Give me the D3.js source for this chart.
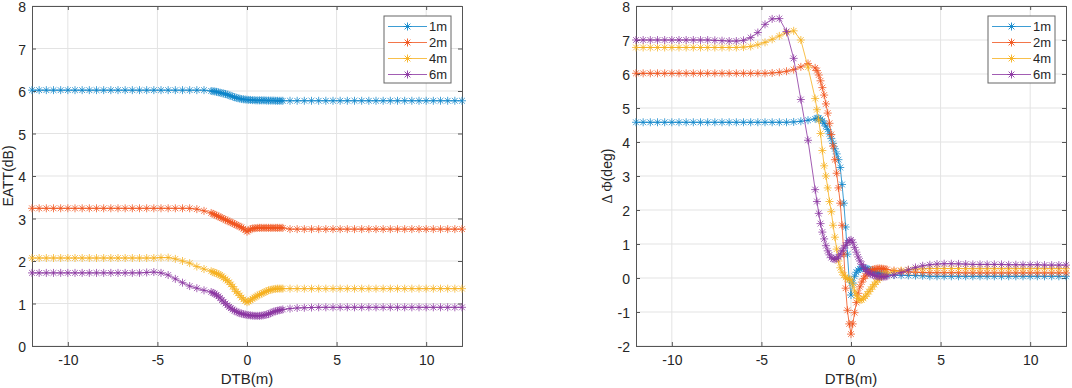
<!DOCTYPE html>
<html>
<head>
<meta charset="utf-8">
<script src="https://cdn.jsdelivr.net/npm/d3@7"></script>
<style>
  body { margin: 0; background: #fff; }
  svg { display: block; }
  text { font-family: "Liberation Sans", Arial, sans-serif; }
</style>
</head>
<body>
<div id="chart"></div>
<script>
// distance to bridge (m), sample positions shared by every curve
const dtb = [
  -12, -11.6, -11.2, -10.8, -10.4, -10, -9.6, -9.2, -8.8, -8.4, -8, -7.6, -7.2, -6.8, -6.4, -6, -5.6, -5.2, -4.8, -4.4, -4, -3.6, -3.2, -2.8, -2.4,
  -2, -1.9, -1.8, -1.7, -1.6, -1.5, -1.4, -1.3, -1.2, -1.1, -1, -0.9, -0.8, -0.7, -0.6, -0.5, -0.4, -0.3, -0.2, -0.1, 0, 0.1, 0.2, 0.3, 0.4, 0.5,
  0.6, 0.7, 0.8, 0.9, 1, 1.1, 1.2, 1.3, 1.4, 1.5, 1.6, 1.7, 1.8, 1.9, 2,
  2.4, 2.8, 3.2, 3.6, 4, 4.4, 4.8, 5.2, 5.6, 6, 6.4, 6.8, 7.2, 7.6, 8, 8.4, 8.8, 9.2, 9.6, 10, 10.4, 10.8, 11.2, 11.6, 12
];

const seriesNames = ["1m", "2m", "4m", "6m"];
const seriesColors = ["#0b84c9", "#f0531c", "#f6b01e", "#8a34a0"];

// EATT (dB)
const eatt1m = [
  6.02, 6.02, 6.02, 6.02, 6.02, 6.02, 6.02, 6.02, 6.02, 6.02, 6.02, 6.02, 6.02, 6.02, 6.02, 6.02, 6.02, 6.02, 6.02, 6.02, 6.02, 6.02, 6.02, 6.02, 6.02,
  6.00, 5.995, 5.99, 5.98, 5.97, 5.96, 5.95, 5.94, 5.93, 5.915, 5.90, 5.885, 5.87, 5.855, 5.84, 5.83, 5.82, 5.81, 5.805, 5.80, 5.795, 5.79, 5.79, 5.785, 5.785, 5.78,
  5.78, 5.78, 5.78, 5.78, 5.78, 5.775, 5.775, 5.775, 5.775, 5.775, 5.77, 5.77, 5.77, 5.77, 5.77,
  5.77, 5.77, 5.77, 5.77, 5.77, 5.77, 5.77, 5.77, 5.77, 5.77, 5.77, 5.77, 5.77, 5.77, 5.77, 5.77, 5.77, 5.77, 5.77, 5.77, 5.77, 5.77, 5.77, 5.77, 5.77
];
const eatt2m = [
  3.24, 3.24, 3.24, 3.24, 3.24, 3.24, 3.24, 3.24, 3.24, 3.24, 3.24, 3.24, 3.24, 3.24, 3.24, 3.24, 3.24, 3.24, 3.24, 3.24, 3.24, 3.24, 3.24, 3.22, 3.18,
  3.13, 3.11, 3.09, 3.07, 3.05, 3.03, 3.01, 2.99, 2.97, 2.95, 2.93, 2.91, 2.89, 2.87, 2.85, 2.83, 2.81, 2.79, 2.76, 2.73, 2.69, 2.72, 2.75, 2.765, 2.77, 2.775,
  2.78, 2.78, 2.78, 2.78, 2.78, 2.78, 2.78, 2.78, 2.78, 2.78, 2.78, 2.78, 2.78, 2.78, 2.78,
  2.75, 2.75, 2.75, 2.75, 2.75, 2.75, 2.75, 2.75, 2.75, 2.75, 2.75, 2.75, 2.75, 2.75, 2.75, 2.75, 2.75, 2.75, 2.75, 2.75, 2.75, 2.75, 2.75, 2.75, 2.75
];
const eatt4m = [
  2.07, 2.07, 2.07, 2.07, 2.07, 2.07, 2.07, 2.07, 2.07, 2.07, 2.07, 2.07, 2.07, 2.07, 2.07, 2.07, 2.07, 2.07, 2.08, 2.08, 2.05, 2.00, 1.95, 1.87, 1.81,
  1.76, 1.74, 1.72, 1.71, 1.69, 1.67, 1.64, 1.61, 1.57, 1.54, 1.50, 1.45, 1.40, 1.34, 1.28, 1.24, 1.19, 1.14, 1.10, 1.06, 1.03, 1.05, 1.08, 1.11, 1.14, 1.16,
  1.19, 1.21, 1.23, 1.25, 1.27, 1.29, 1.31, 1.32, 1.33, 1.34, 1.345, 1.35, 1.35, 1.35, 1.35,
  1.35, 1.35, 1.35, 1.35, 1.35, 1.35, 1.35, 1.35, 1.35, 1.35, 1.35, 1.35, 1.35, 1.35, 1.35, 1.35, 1.35, 1.35, 1.35, 1.35, 1.35, 1.35, 1.35, 1.35, 1.35
];
const eatt6m = [
  1.72, 1.72, 1.72, 1.72, 1.72, 1.72, 1.72, 1.72, 1.72, 1.72, 1.72, 1.72, 1.72, 1.72, 1.72, 1.72, 1.73, 1.74, 1.72, 1.67, 1.58, 1.49, 1.41, 1.36, 1.31,
  1.27, 1.25, 1.23, 1.20, 1.17, 1.13, 1.08, 1.04, 1.00, 0.96, 0.92, 0.89, 0.86, 0.83, 0.81, 0.79, 0.77, 0.76, 0.75, 0.74, 0.73, 0.725, 0.72, 0.715, 0.71, 0.71,
  0.71, 0.71, 0.715, 0.72, 0.73, 0.74, 0.75, 0.77, 0.79, 0.81, 0.82, 0.83, 0.84, 0.85, 0.86,
  0.88, 0.895, 0.90, 0.905, 0.91, 0.91, 0.91, 0.91, 0.91, 0.91, 0.91, 0.91, 0.91, 0.91, 0.91, 0.91, 0.91, 0.91, 0.91, 0.91, 0.91, 0.91, 0.91, 0.91, 0.91
];

// ΔΦ (deg)
const dphi1m = [
  4.58, 4.58, 4.58, 4.58, 4.58, 4.58, 4.58, 4.58, 4.58, 4.58, 4.58, 4.58, 4.58, 4.58, 4.58, 4.58, 4.58, 4.58, 4.58, 4.58, 4.58, 4.58, 4.59, 4.61, 4.64,
  4.68, 4.70, 4.70, 4.67, 4.62, 4.55, 4.47, 4.37, 4.24, 4.10, 3.96, 3.80, 3.65, 3.48, 3.25, 2.75, 2.20, 1.50, 0.70, -0.05, -0.50, -0.15, 0.05, 0.17, 0.23, 0.27,
  0.29, 0.29, 0.28, 0.27, 0.25, 0.23, 0.21, 0.19, 0.17, 0.15, 0.14, 0.12, 0.11, 0.10, 0.09,
  0.085, 0.08, 0.075, 0.07, 0.065, 0.05, 0.05, 0.05, 0.05, 0.05, 0.05, 0.05, 0.05, 0.05, 0.05, 0.05, 0.05, 0.05, 0.05, 0.05, 0.05, 0.05, 0.05, 0.05, 0.05
];
const dphi2m = [
  6.02, 6.02, 6.02, 6.02, 6.02, 6.02, 6.02, 6.02, 6.02, 6.02, 6.02, 6.02, 6.02, 6.02, 6.02, 6.02, 6.02, 6.02, 6.02, 6.03, 6.05, 6.08, 6.13, 6.21, 6.31,
  6.18, 6.10, 5.97, 5.80, 5.60, 5.38, 5.12, 4.85, 4.55, 4.22, 3.88, 3.48, 3.08, 2.65, 2.20, 1.55, 0.70, -0.30, -0.95, -1.35, -1.65, -1.35, -1.02, -0.72, -0.45, -0.26,
  -0.12, -0.02, 0.06, 0.12, 0.17, 0.21, 0.24, 0.26, 0.27, 0.28, 0.28, 0.275, 0.27, 0.26, 0.25,
  0.22, 0.20, 0.18, 0.17, 0.16, 0.155, 0.155, 0.155, 0.155, 0.155, 0.15, 0.15, 0.15, 0.15, 0.15, 0.15, 0.15, 0.15, 0.15, 0.15, 0.15, 0.15, 0.15, 0.15, 0.15
];
const dphi4m = [
  6.78, 6.78, 6.78, 6.78, 6.78, 6.78, 6.78, 6.78, 6.78, 6.78, 6.78, 6.78, 6.78, 6.78, 6.78, 6.79, 6.81, 6.86, 6.93, 7.02, 7.12, 7.22, 7.27, 7.00, 6.20,
  5.28, 4.95, 4.65, 4.25, 3.75, 3.30, 3.00, 2.65, 2.25, 1.95, 1.55, 1.20, 0.85, 0.50, 0.30, 0.17, 0.08, 0.02, -0.02, -0.04, -0.06, -0.20, -0.38, -0.52, -0.60, -0.65,
  -0.64, -0.60, -0.54, -0.47, -0.40, -0.33, -0.26, -0.19, -0.12, -0.06, -0.01, 0.04, 0.08, 0.11, 0.14,
  0.19, 0.22, 0.245, 0.26, 0.27, 0.28, 0.28, 0.28, 0.28, 0.28, 0.275, 0.275, 0.275, 0.275, 0.275, 0.275, 0.275, 0.275, 0.275, 0.275, 0.275, 0.275, 0.275, 0.275, 0.275
];
const dphi6m = [
  7.00, 7.00, 7.00, 7.00, 7.00, 7.00, 7.00, 7.00, 7.00, 7.00, 7.00, 6.99, 6.98, 6.97, 6.97, 6.99, 7.07, 7.22, 7.46, 7.62, 7.63, 7.25, 6.46, 5.25, 4.05,
  2.60, 2.25, 1.90, 1.60, 1.35, 1.15, 0.95, 0.80, 0.68, 0.60, 0.56, 0.55, 0.57, 0.62, 0.70, 0.80, 0.88, 0.96, 1.04, 1.10, 1.12, 1.05, 0.90, 0.76, 0.62, 0.50,
  0.40, 0.32, 0.25, 0.19, 0.15, 0.12, 0.10, 0.08, 0.06, 0.05, 0.04, 0.04, 0.04, 0.04, 0.05,
  0.09, 0.16, 0.24, 0.31, 0.36, 0.39, 0.41, 0.42, 0.42, 0.415, 0.41, 0.40, 0.40, 0.40, 0.40, 0.40, 0.39, 0.39, 0.39, 0.39, 0.39, 0.38, 0.38, 0.38, 0.38
];

const dtbTicks = [-10, -5, 0, 5, 10];
const eattTicks = [0, 1, 2, 3, 4, 5, 6, 7, 8];
const dphiTicks = [-2, -1, 0, 1, 2, 3, 4, 5, 6, 7, 8];

(function() {
  const width = 1072;
  const height = 388;

  const svg = d3.select("#chart").append("svg")
    .attr("width", width)
    .attr("height", height);

  // MATLAB style "*" marker
  function asterisk(r) {
    const d = r * 0.72;
    return `M${-r},0H${r}M0,${-r}V${r}M${-d},${-d}L${d},${d}M${-d},${d}L${d},${-d}`;
  }

  // plain hyphen minus like the original figure
  const fmt = d => String(d);

  function drawPanel(opts) {
    const x = d3.scaleLinear().domain([-12, 12]).range([opts.left, opts.right]);
    const y = d3.scaleLinear().domain(opts.yDomain).range([346, 6]);
    const g = svg.append("g");

    // grid
    g.selectAll(".gx").data(dtbTicks).enter().append("line")
      .attr("x1", d => x(d)).attr("x2", d => x(d))
      .attr("y1", y.range()[0]).attr("y2", y.range()[1])
      .attr("stroke", "#e3e3e3").attr("stroke-width", 1);
    g.selectAll(".gy").data(opts.yTicks).enter().append("line")
      .attr("x1", opts.left).attr("x2", opts.right)
      .attr("y1", d => y(d)).attr("y2", d => y(d))
      .attr("stroke", "#e3e3e3").attr("stroke-width", 1);

    // axes, ticks inward on all four sides
    const tick = 4;
    const xb = g.append("g").attr("transform", `translate(0,${y.range()[0]})`)
      .call(d3.axisBottom(x).tickValues(dtbTicks).tickFormat(fmt).tickSize(-tick).tickPadding(9));
    const xt = g.append("g").attr("transform", `translate(0,${y.range()[1]})`)
      .call(d3.axisTop(x).tickValues(dtbTicks).tickSize(-tick).tickFormat(""));
    const yl = g.append("g").attr("transform", `translate(${opts.left},0)`)
      .call(d3.axisLeft(y).tickValues(opts.yTicks).tickFormat(fmt).tickSize(-tick).tickPadding(6));
    const yr = g.append("g").attr("transform", `translate(${opts.right},0)`)
      .call(d3.axisRight(y).tickValues(opts.yTicks).tickSize(-tick).tickFormat(""));
    [xb, xt, yl, yr].forEach(a => {
      a.select(".domain").attr("stroke", "#555").attr("stroke-width", 1);
      a.selectAll(".tick line").attr("stroke", "#555");
      a.selectAll(".tick text")
        .attr("fill", "#262626")
        .style("font-family", '"Liberation Sans", Arial, sans-serif')
        .style("font-size", "14px");
    });
    xb.selectAll(".tick text").attr("dy", "0.71em");
    yl.selectAll(".tick text").attr("dy", "0.4em");

    // curves
    const line = d3.line().x(d => x(d[0])).y(d => y(d[1]));
    opts.series.forEach((vals, i) => {
      const pts = dtb.map((d, j) => [d, vals[j]]);
      const s = g.append("g");
      s.append("path")
        .attr("d", line(pts))
        .attr("fill", "none")
        .attr("stroke", seriesColors[i])
        .attr("stroke-width", 0.8);
      s.selectAll("path.m").data(pts).enter().append("path")
        .attr("class", "m")
        .attr("transform", d => `translate(${x(d[0])},${y(d[1])})`)
        .attr("d", asterisk(4))
        .attr("fill", "none")
        .attr("stroke", seriesColors[i])
        .attr("stroke-width", 0.9)
        .attr("stroke-opacity", 0.85);
    });

    // axis titles
    g.append("text")
      .attr("x", x(0)).attr("y", 384)
      .attr("text-anchor", "middle")
      .attr("fill", "#262626")
      .style("font-size", "15px")
      .text("DTB(m)");

    const yt = g.append("text")
      .attr("transform", `translate(${opts.yLabelX},176) rotate(-90)`)
      .attr("text-anchor", "middle")
      .attr("fill", "#262626")
      .style("font-size", "14px");
    opts.yLabel.forEach(p => {
      yt.append("tspan")
        .style("font-family", p.serif ? '"Liberation Serif", "DejaVu Serif", serif' : null)
        .text(p.t);
    });

    // legend
    const lg = g.append("g").attr("transform", `translate(${opts.right - opts.legendW - opts.legendGap},16)`);
    lg.append("rect")
      .attr("width", opts.legendW).attr("height", 67)
      .attr("fill", "#fff")
      .attr("stroke", "#666")
      .attr("stroke-width", 1);
    seriesNames.forEach((name, i) => {
      const ly = 10.5 + i * 16;
      lg.append("line")
        .attr("x1", 4).attr("x2", 43)
        .attr("y1", ly).attr("y2", ly)
        .attr("stroke", seriesColors[i])
        .attr("stroke-width", 0.8);
      lg.append("path")
        .attr("transform", `translate(23.5,${ly})`)
        .attr("d", asterisk(4))
        .attr("fill", "none")
        .attr("stroke", seriesColors[i])
        .attr("stroke-width", 0.9);
      lg.append("text")
        .attr("x", 45).attr("y", ly)
        .attr("dy", "0.35em")
        .attr("fill", "#262626")
        .style("font-size", "13px")
        .text(name);
    });
  }

  drawPanel({
    left: 32, right: 462,
    yDomain: [0, 8], yTicks: eattTicks,
    series: [eatt1m, eatt2m, eatt4m, eatt6m],
    yLabel: [{ t: "EATT(dB)" }], yLabelX: 13,
    legendW: 67, legendGap: 11
  });

  drawPanel({
    left: 636, right: 1066,
    yDomain: [-2, 8], yTicks: dphiTicks,
    series: [dphi1m, dphi2m, dphi4m, dphi6m],
    yLabel: [{ t: "Δ", serif: true }, { t: "\u2009" }, { t: "Φ", serif: true }, { t: "(deg)" }], yLabelX: 612,
    legendW: 67, legendGap: 11
  });
})();
</script>
</body>
</html>
